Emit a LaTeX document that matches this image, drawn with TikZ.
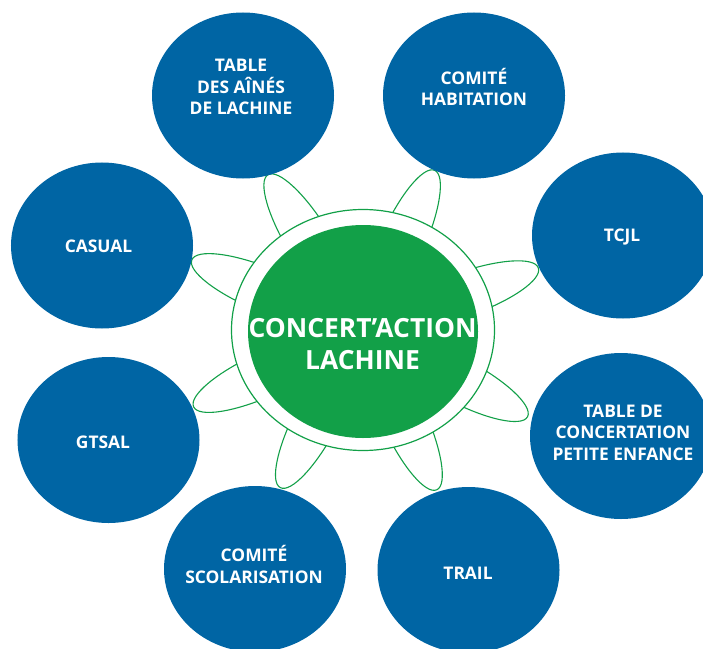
\documentclass[tikz,border=0pt]{standalone}
\usepackage{fontspec}
\setmainfont{Open Sans}
\usetikzlibrary{shapes.geometric}
\definecolor{clubblue}{RGB}{0,101,164}
\definecolor{leafgreen}{RGB}{18,160,72}

\begin{document}
\begin{tikzpicture}[x=1bp,y=1bp,
  club/.style={ellipse,fill=clubblue,minimum width=182bp,minimum height=166bp,inner sep=0pt},
  clubtext/.style={align=center,text=white,font=\bfseries\fontsize{17.4bp}{21.5bp}\selectfont},
  petal/.style={ellipse,draw=leafgreen,line width=1.1bp,minimum width=160bp,minimum height=44bp,inner sep=0pt},
  hubring/.style={ellipse,draw=leafgreen,line width=1.2bp,fill=white,minimum width=263bp,minimum height=241bp,inner sep=0pt},
  hubcore/.style={ellipse,fill=leafgreen,minimum width=230bp,minimum height=213bp,inner sep=0pt},
  hubtext/.style={align=center,text=white,font=\bfseries\fontsize{26.4bp}{32bp}\selectfont}]

\useasboundingbox (0,0) rectangle (703,-649);
\clip (0,0) rectangle (703,-649);

\coordinate (hub) at (363,-330);

% petals (angle / distance of the petal centre)
\foreach \a/\d [count=\i] in {121.5/102,65.8/95,19.5/106,-27.8/106,-65.2/96,-117.7/98,-155.6/106,157.7/105}
  \node (petal\i) at ([shift={(\a:\d)}]hub) [petal,rotate=\a] {};

\node (aines)	at (243,-95.5)	[club] {};
\node (habitation)	at (474,-95.5)	[club] {};
\node (tcjl)	at (623,-235.5)	[club] {};
\node (concertation)	at (621,-436)	[club] {};
\node (trail)	at (468.5,-570)	[club] {};
\node (scolarisation)	at (255,-569)	[club] {};
\node (gtsal)	at (108.5,-440)	[club] {};
\node (casual)	at (102,-245.5)	[club] {};

\node (ring)	at (hub)	[hubring] {};
\node (core)	at (363,-331.5)	[hubcore] {};

\node (core text)	at (362.5,-344)	[hubtext] {CONCERT’ACTION\\LACHINE};
\node (aines text)	at (241,-87)	[clubtext] {TABLE\\DES AÎNÉS\\DE LACHINE};
\node (habitation text)	at (474,-87)	[clubtext] {COMITÉ\\HABITATION};
\node (tcjl text)	at (622,-237)	[clubtext] {TCJL};
\node (concertation text)	at (623,-432.5)	[clubtext] {TABLE DE\\CONCERTATION\\PETITE ENFANCE};
\node (trail text)	at (468,-573.5)	[clubtext] {TRAIL};
\node (scolarisation text)	at (254,-564.5)	[clubtext] {COMITÉ\\SCOLARISATION};
\node (gtsal text)	at (103,-442)	[clubtext] {GTSAL};
\node (casual text)	at (98.5,-246)	[clubtext] {CASUAL};

\end{tikzpicture}
\end{document}
